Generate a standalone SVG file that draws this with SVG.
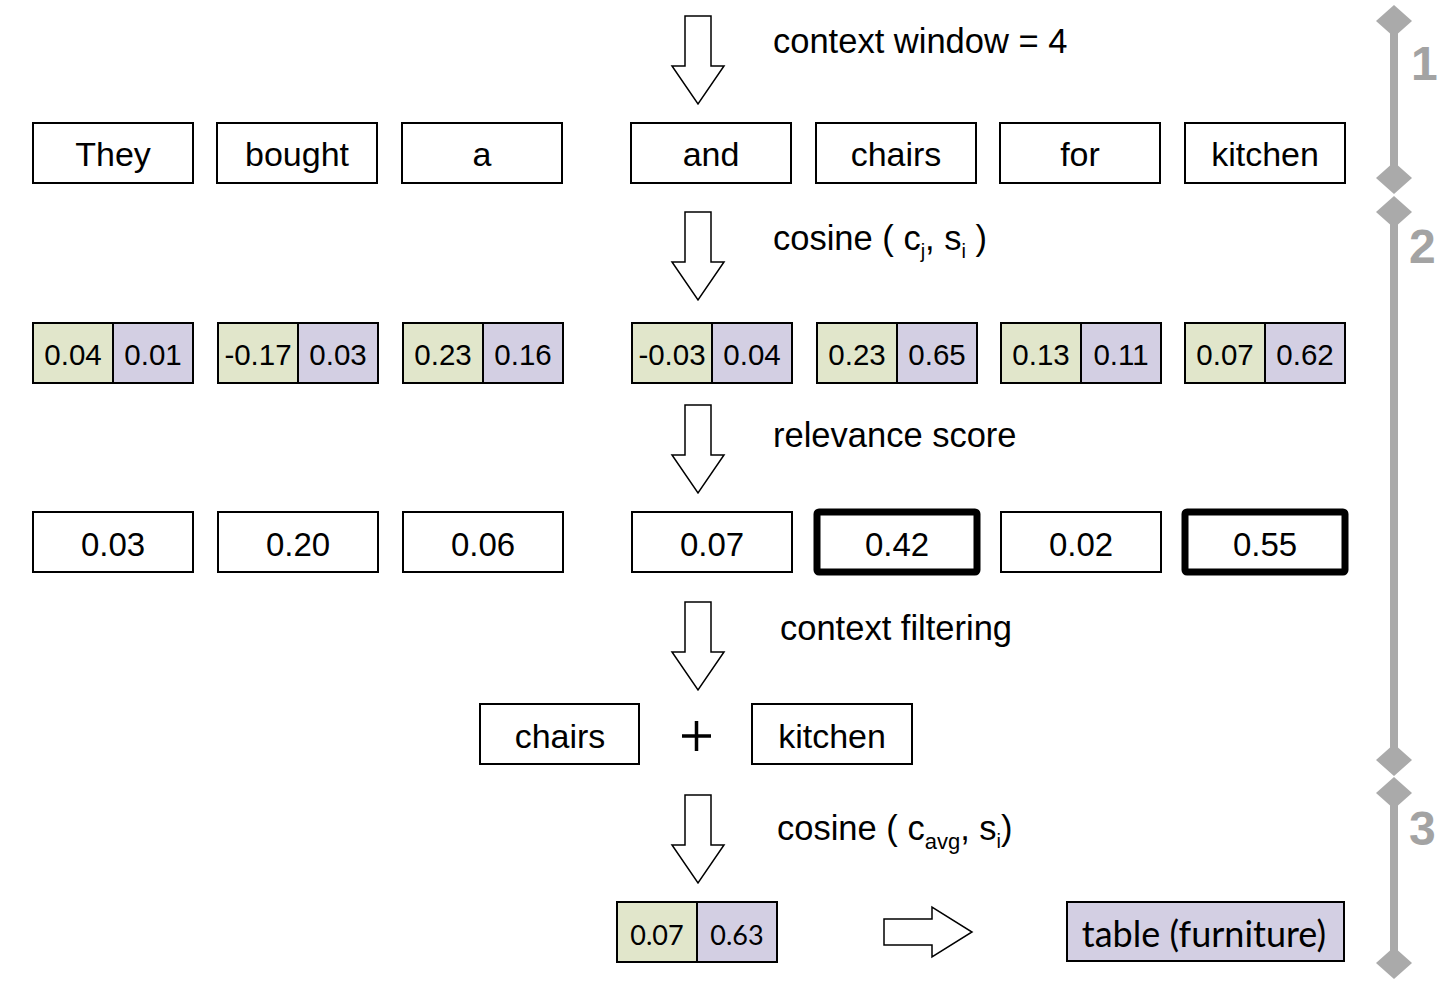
<svg xmlns="http://www.w3.org/2000/svg" width="1446" height="991" viewBox="0 0 1446 991">
<style>
.box{fill:#fff;stroke:#000;stroke-width:2}
.thick{fill:#fff;stroke:#000;stroke-width:7}
.g{fill:#e1e6cb;stroke:#000;stroke-width:2}
.p{fill:#d3cfe3;stroke:#000;stroke-width:2}
.arrow{fill:#fff;stroke:#000;stroke-width:1.5}
.w{font-family:"Liberation Sans",Arial,sans-serif;font-size:34px;text-anchor:middle;fill:#000}
.v{font-family:"Liberation Sans",Arial,sans-serif;font-size:29.5px;text-anchor:middle;fill:#000}
.s{font-family:"Liberation Sans",Arial,sans-serif;font-size:33px;text-anchor:middle;fill:#000}
.lbl{font-family:"Liberation Sans",Arial,sans-serif;font-size:34.5px;fill:#000}
.cal{font-family:Lato,"Open Sans",sans-serif;text-anchor:middle;fill:#000}
.bar{stroke:#aaa;stroke-width:8;fill:none}
.dia{fill:#aaa}
.num{font-family:"Liberation Sans",Arial,sans-serif;font-size:48px;font-weight:bold;fill:#a3a3a3}
</style>
<defs>
<path id="darr" d="M-13,0 H13 V50 H26 L0,88 L-26,50 H-13 Z"/>
</defs>

<g id="connectors">
<use href="#darr" class="arrow" x="698" y="16"/>
<use href="#darr" class="arrow" x="698" y="212"/>
<use href="#darr" class="arrow" x="698" y="405"/>
<use href="#darr" class="arrow" x="698" y="602"/>
<use href="#darr" class="arrow" x="698" y="795"/>
<path class="arrow" d="M884,919 H932 V907 L972,932 L932,957 V945 H884 Z"/>
</g>

<g id="labels">
<text class="lbl" x="773" y="53">context window = 4</text>
<text class="lbl" x="773" y="250">cosine ( c<tspan font-size="20" dy="8">j</tspan><tspan dy="-8">, s</tspan><tspan font-size="20" dy="8">i</tspan><tspan dy="-8"> )</tspan></text>
<text class="lbl" x="773" y="447">relevance score</text>
<text class="lbl" x="780" y="640">context filtering</text>
<text class="lbl" x="777" y="840">cosine ( c<tspan font-size="22" dy="9">avg</tspan><tspan dy="-9">, s</tspan><tspan font-size="20" dy="8">i</tspan><tspan dy="-8">)</tspan></text>
</g>

<g id="words">
<g id="w-they"><rect class="box" x="33" y="123" width="160" height="60"/><text class="w" x="113" y="166">They</text></g>
<g id="w-bought"><rect class="box" x="217" y="123" width="160" height="60"/><text class="w" x="297" y="166">bought</text></g>
<g id="w-a"><rect class="box" x="402" y="123" width="160" height="60"/><text class="w" x="482" y="166">a</text></g>
<g id="w-and"><rect class="box" x="631" y="123" width="160" height="60"/><text class="w" x="711" y="166">and</text></g>
<g id="w-chairs"><rect class="box" x="816" y="123" width="160" height="60"/><text class="w" x="896" y="166">chairs</text></g>
<g id="w-for"><rect class="box" x="1000" y="123" width="160" height="60"/><text class="w" x="1080" y="166">for</text></g>
<g id="w-kitchen"><rect class="box" x="1185" y="123" width="160" height="60"/><text class="w" x="1265" y="166">kitchen</text></g>
</g>

<g id="vectors">
<g id="v1"><rect class="g" x="33" y="323" width="80" height="60"/><rect class="p" x="113" y="323" width="80" height="60"/><text class="v" x="73" y="365">0.04</text><text class="v" x="153" y="365">0.01</text></g>
<g id="v2"><rect class="g" x="218" y="323" width="80" height="60"/><rect class="p" x="298" y="323" width="80" height="60"/><text class="v" x="258" y="365">-0.17</text><text class="v" x="338" y="365">0.03</text></g>
<g id="v3"><rect class="g" x="403" y="323" width="80" height="60"/><rect class="p" x="483" y="323" width="80" height="60"/><text class="v" x="443" y="365">0.23</text><text class="v" x="523" y="365">0.16</text></g>
<g id="v4"><rect class="g" x="632" y="323" width="80" height="60"/><rect class="p" x="712" y="323" width="80" height="60"/><text class="v" x="672" y="365">-0.03</text><text class="v" x="752" y="365">0.04</text></g>
<g id="v5"><rect class="g" x="817" y="323" width="80" height="60"/><rect class="p" x="897" y="323" width="80" height="60"/><text class="v" x="857" y="365">0.23</text><text class="v" x="937" y="365">0.65</text></g>
<g id="v6"><rect class="g" x="1001" y="323" width="80" height="60"/><rect class="p" x="1081" y="323" width="80" height="60"/><text class="v" x="1041" y="365">0.13</text><text class="v" x="1121" y="365">0.11</text></g>
<g id="v7"><rect class="g" x="1185" y="323" width="80" height="60"/><rect class="p" x="1265" y="323" width="80" height="60"/><text class="v" x="1225" y="365">0.07</text><text class="v" x="1305" y="365">0.62</text></g>
</g>

<g id="scores">
<g id="s1"><rect class="box" x="33" y="512" width="160" height="60"/><text class="s" x="113" y="556">0.03</text></g>
<g id="s2"><rect class="box" x="218" y="512" width="160" height="60"/><text class="s" x="298" y="556">0.20</text></g>
<g id="s3"><rect class="box" x="403" y="512" width="160" height="60"/><text class="s" x="483" y="556">0.06</text></g>
<g id="s4"><rect class="box" x="632" y="512" width="160" height="60"/><text class="s" x="712" y="556">0.07</text></g>
<g id="s5"><rect class="thick" x="817" y="512" width="160" height="60" rx="2"/><text class="s" x="897" y="556">0.42</text></g>
<g id="s6"><rect class="box" x="1001" y="512" width="160" height="60"/><text class="s" x="1081" y="556">0.02</text></g>
<g id="s7"><rect class="thick" x="1185" y="512" width="160" height="60" rx="2"/><text class="s" x="1265" y="556">0.55</text></g>
</g>

<g id="filtered">
<g id="f-chairs"><rect class="box" x="480" y="704" width="159" height="60"/><text class="w" x="560" y="748">chairs</text></g>
<g id="plus"><path d="M682,736 H711 M696.5,721 V751" stroke="#000" stroke-width="3.5"/></g>
<g id="f-kitchen"><rect class="box" x="752" y="704" width="160" height="60"/><text class="w" x="832" y="748">kitchen</text></g>
</g>

<g id="result">
<g id="r-vec"><rect class="g" x="617" y="902" width="80" height="60"/><rect class="p" x="697" y="902" width="80" height="60"/><text class="cal" font-size="27" x="657" y="945">0.07</text><text class="cal" font-size="27" x="737" y="945">0.63</text></g>
<g id="r-table"><rect class="p" x="1067" y="902" width="277" height="59"/><text class="cal" font-size="36" x="1204" y="947">table (furniture)</text></g>
</g>

<g id="stages">
<line class="bar" x1="1394" y1="21" x2="1394" y2="178"/>
<path class="dia" d="M1394,5 L1412,21 L1394,37 L1376,21 Z M1394,162 L1412,178 L1394,194 L1376,178 Z"/>
<line class="bar" x1="1394" y1="212" x2="1394" y2="760"/>
<path class="dia" d="M1394,196 L1412,212 L1394,228 L1376,212 Z M1394,744 L1412,760 L1394,776 L1376,760 Z"/>
<line class="bar" x1="1394" y1="793" x2="1394" y2="963"/>
<path class="dia" d="M1394,777 L1412,793 L1394,809 L1376,793 Z M1394,947 L1412,963 L1394,979 L1376,963 Z"/>
<text class="num" x="1411" y="80">1</text>
<text class="num" x="1409" y="263">2</text>
<text class="num" x="1409" y="845">3</text>
</g>
</svg>
